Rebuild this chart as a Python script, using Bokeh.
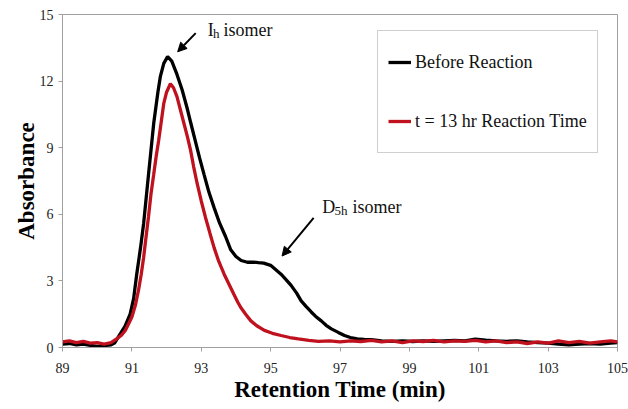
from bokeh.plotting import figure
from bokeh.models import Legend, LegendItem, FixedTicker, Label, Arrow, NormalHead, Range1d
from bokeh.embed import file_html
from bokeh.resources import INLINE

# ---------------- data ----------------
before_t = [89.0, 89.2, 89.4, 89.6, 89.8, 90.0, 90.2, 90.4, 90.5, 90.66, 90.8, 90.95, 91.05, 91.14,
            91.25, 91.34, 91.48, 91.63, 91.75, 91.82, 91.92, 92.03, 92.15, 92.3, 92.45, 92.59, 92.7,
            92.83, 92.95, 93.08, 93.22, 93.37, 93.53, 93.7, 93.85, 94.0, 94.15, 94.33, 94.5, 94.65,
            94.8, 95.0, 95.15, 95.3, 95.45, 95.59, 95.75, 95.88, 96.02, 96.17, 96.3, 96.46, 96.6,
            96.75, 96.95, 97.13, 97.3, 97.5, 97.7, 97.9, 98.2, 98.5, 98.8, 99.1, 99.4, 99.7, 100.0,
            100.3, 100.6, 100.9, 101.2, 101.5, 101.8, 102.1, 102.4, 102.7, 103.0, 103.3, 103.6,
            103.9, 104.2, 104.5, 104.8, 105.0]
before_v = [0.15, 0.18, 0.12, 0.15, 0.10, 0.05, 0.08, 0.12, 0.2, 0.6, 0.95, 1.5, 2.2, 3.3,
            4.5, 5.6, 7.8, 10.1, 11.5, 12.2, 12.8, 13.1, 12.9, 12.3, 11.6, 10.8, 10.1,
            9.3, 8.55, 7.8, 7.0, 6.3, 5.6, 5.0, 4.4, 4.1, 3.92, 3.84, 3.85, 3.82,
            3.8, 3.7, 3.5, 3.3, 3.05, 2.8, 2.45, 2.1, 1.85, 1.6, 1.4, 1.2, 1.0,
            0.84, 0.68, 0.54, 0.45, 0.39, 0.36, 0.35, 0.3, 0.28, 0.3, 0.27, 0.3, 0.28, 0.3,
            0.32, 0.3, 0.38, 0.33, 0.3, 0.28, 0.3, 0.25, 0.22, 0.2, 0.15, 0.12,
            0.15, 0.18, 0.15, 0.2, 0.22]

after_t = [89.0, 89.2, 89.4, 89.6, 89.8, 90.0, 90.2, 90.4, 90.56, 90.7, 90.81, 90.9, 91.0, 91.1,
           91.19, 91.27, 91.34, 91.41, 91.48, 91.55, 91.63, 91.7, 91.77, 91.85, 91.92, 92.0,
           92.11, 92.2, 92.3, 92.4, 92.5, 92.6, 92.69, 92.78, 92.88, 93.0, 93.12, 93.25, 93.37,
           93.5, 93.66, 93.8, 93.94, 94.05, 94.14, 94.28, 94.43, 94.6, 94.82, 95.05, 95.3, 95.55,
           95.8, 96.1, 96.38, 96.7, 97.0, 97.3, 97.6, 97.9, 98.2, 98.5, 98.8, 99.1, 99.4, 99.7,
           100.0, 100.3, 100.6, 100.9, 101.2, 101.5, 101.8, 102.1, 102.4, 102.7, 103.0, 103.3,
           103.6, 103.9, 104.2, 104.5, 104.8, 105.0]
after_v = [0.25, 0.3, 0.22, 0.28, 0.2, 0.22, 0.15, 0.22, 0.39, 0.55, 0.77, 1.05, 1.37, 1.9,
           2.57, 3.3, 4.07, 5.0, 5.9, 6.9, 7.8, 8.6, 9.3, 10.2, 11.0, 11.5,
           11.88, 11.7, 11.3, 10.7, 10.1, 9.5, 8.9, 8.15, 7.4, 6.6, 5.87, 5.15, 4.5,
           3.9, 3.3, 2.85, 2.4, 2.05, 1.8, 1.5, 1.2, 0.98, 0.77, 0.64, 0.54, 0.45,
           0.39, 0.32, 0.28, 0.3, 0.25, 0.3, 0.27, 0.32, 0.25, 0.3, 0.22, 0.3, 0.27, 0.32,
           0.25, 0.3, 0.28, 0.32, 0.25, 0.3, 0.22, 0.25, 0.18, 0.25, 0.2, 0.3,
           0.22, 0.28, 0.2, 0.25, 0.3, 0.25]

x_ticks = [89, 91, 93, 95, 97, 99, 101, 103, 105]
y_ticks = [0, 3, 6, 9, 12, 15]
series_names = ["Before Reaction", "t = 13 hr Reaction Time"]

SERIF = "Liberation Serif"
GRAY = "#a0a0a0"
RED = "#c0121e"
TXT = "#111111"

p = figure(width=628, height=409, output_backend="svg", toolbar_location=None,
           x_range=Range1d(89, 105), y_range=Range1d(0, 15),
           min_border_left=62, min_border_top=14, min_border_right=11, min_border_bottom=62)
p.background_fill_color = "white"
p.border_fill_color = "white"
p.outline_line_color = GRAY
p.outline_line_width = 1
p.xgrid.visible = False
p.ygrid.visible = False

for ax in (p.xaxis[0], p.yaxis[0]):
    ax.axis_line_color = GRAY
    ax.major_tick_line_color = GRAY
    ax.minor_tick_line_color = None
    ax.major_tick_in = 0
    ax.major_tick_out = 4
    ax.major_label_text_font = SERIF
    ax.major_label_text_font_size = "14px"
    ax.major_label_text_color = "#222222"
    ax.axis_label_text_font = SERIF
    ax.axis_label_text_font_style = "bold"
    ax.axis_label_text_font_size = "23px"
    ax.axis_label_text_color = "black"

p.xaxis.ticker = FixedTicker(ticks=x_ticks)
p.yaxis.ticker = FixedTicker(ticks=y_ticks)
p.xaxis.axis_label = "Retention Time (min)"
p.yaxis.axis_label = "Absorbance"
p.xaxis.major_label_standoff = 11
p.yaxis.major_label_standoff = 5
p.xaxis.axis_label_standoff = 1
p.yaxis.axis_label_standoff = -2

r_before = p.line(before_t, before_v, line_color="black", line_width=3.3)
r_after = p.line(after_t, after_v, line_color=RED, line_width=3.3)

legend = Legend(items=[LegendItem(label=series_names[0], renderers=[r_before]),
                       LegendItem(label=series_names[1], renderers=[r_after])],
                location=(315, 194), orientation="vertical")
legend.label_text_font = SERIF
legend.label_text_font_size = "18px"
legend.label_text_color = TXT
legend.glyph_width = 23
legend.glyph_height = 42
legend.label_height = 42
legend.label_standoff = 4
legend.spacing = 17
legend.padding = 10
legend.margin = 0
legend.border_line_color = GRAY
legend.border_line_width = 1
legend.background_fill_color = "white"
legend.background_fill_alpha = 1
p.add_layout(legend)

def lab(x, y, text, size):
    p.add_layout(Label(x=x, y=y, text=text, text_font=SERIF, text_font_size=size,
                       text_color=TXT, text_baseline="alphabetic"))

# annotation: Ih isomer
p.add_layout(Arrow(end=NormalHead(size=9, fill_color="black", line_color="black"),
                   x_start=92.84, y_start=14.16, x_end=92.32, y_end=13.32,
                   line_color="black", line_width=2))
lab(93.19, 14.28, "I", "18px")
lab(93.34, 14.15, "h", "13px")
lab(93.64, 14.28, "isomer", "18px")

# annotation: D5h isomer
p.add_layout(Arrow(end=NormalHead(size=9, fill_color="black", line_color="black"),
                   x_start=96.24, y_start=5.84, x_end=95.33, y_end=4.12,
                   line_color="black", line_width=2))
lab(96.49, 6.32, "D", "18px")
lab(96.84, 6.19, "5h", "13px")
lab(97.36, 6.32, "isomer", "18px")

open("out.html", "w").write(file_html(p, INLINE))
